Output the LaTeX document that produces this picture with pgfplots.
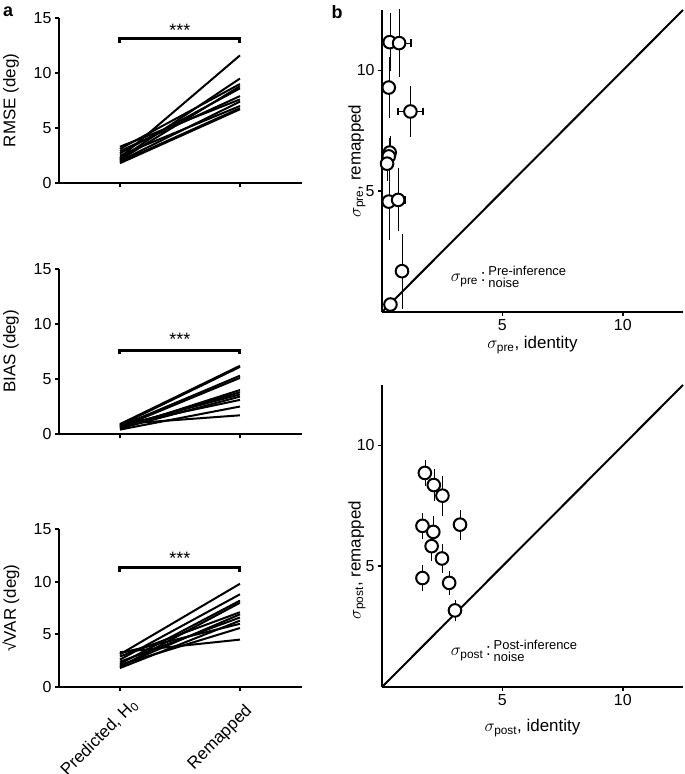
\documentclass[border=0pt]{standalone}
\usepackage{fontspec}
\setmainfont{Liberation Sans}
\usepackage{amsmath}
\usepackage{pgfplots}
\usepackage{pgfplotstable}
\pgfplotsset{compat=1.18}
\newcommand\tickfont{\fontsize{16}{19}\selectfont}
\newcommand\labfont{\fontsize{17}{20}\selectfont}
\newcommand\notefont{\fontsize{13}{14}\selectfont}
\newcommand\starfont{\fontsize{18}{18}\selectfont}

\pgfplotstableread{
x y ex ey
0.32 11.17 0.05 1.20
0.71 11.13 0.50 1.40
0.28 9.29 0.05 1.25
1.18 8.30 0.52 1.07
0.32 6.60 0.05 0.70
0.28 6.44 0.05 0.75
0.21 6.14 0.05 0.70
0.28 4.57 0.05 1.60
0.67 4.64 0.30 1.30
0.83 1.69 0.20 1.55
0.35 0.31 0.05 0.05
}\pre

\pgfplotstableread{
x y ex ey
1.78 8.86 0.05 0.52
2.15 8.36 0.05 0.65
2.51 7.92 0.05 0.83
1.68 6.67 0.05 0.55
3.24 6.72 0.05 0.62
2.13 6.42 0.05 0.65
2.06 5.83 0.05 0.60
2.49 5.32 0.05 0.60
1.68 4.51 0.05 0.55
2.79 4.31 0.05 0.50
3.03 3.17 0.05 0.45
}\post

\tikzset{l/.style={black, line width=2bp}}
\pgfplotsset{
 common/.style={
  scale only axis, anchor=south west,
  axis x line*=bottom, axis y line*=left,
  axis line style={line width=2.6bp, black},
  tick align=outside, major tick length=4bp,
  tick style={line width=1.8bp, black},
  /pgf/number format/assume math mode=true,
  ticklabel style={font=\tickfont},
  label style={font=\labfont},
  clip=false,
 },
 panelA/.style={common,
  width=243bp, xmin=-0.508, xmax=1.517, ymin=0, ymax=15,
  xtick={0,1}, xticklabels={}, ytick={0,5,10,15},
  ylabel style={at={(axis description cs:-0.198,0.5)}, anchor=center},
 },
 panelB/.style={common,
  width=301bp, height=302bp, xmin=0, xmax=12.5, ymin=0, ymax=12.5,
  xtick={5,10}, ytick={5,10},
 },
 ebar/.style={only marks, mark=none, black, line width=1.9bp},
 circ/.style={only marks, mark=*, mark size=6.3bp, mark options={fill=white, draw=black, line width=2bp}},
}

\begin{document}
\begin{tikzpicture}
\useasboundingbox (0,0) rectangle (685bp,-774bp);

% ---------- panel a: RMSE ----------
\begin{axis}[panelA, at={(59bp,-183bp)}, height=165bp, ylabel={RMSE (deg)}]
\addplot[l] coordinates {(0,3.3) (1,7.6)};
\addplot[l] coordinates {(0,3.1) (1,9.0)};
\addplot[l] coordinates {(0,2.9) (1,7.9)};
\addplot[l] coordinates {(0,2.7) (1,8.6)};
\addplot[l] coordinates {(0,2.5) (1,7.0)};
\addplot[l] coordinates {(0,2.3) (1,11.6)};
\addplot[l] coordinates {(0,2.2) (1,9.5)};
\addplot[l] coordinates {(0,2.1) (1,8.8)};
\addplot[l] coordinates {(0,2.0) (1,7.4)};
\addplot[l] coordinates {(0,1.9) (1,6.8)};
\addplot[l] coordinates {(0,1.8) (1,6.7)};
\addplot[black, line width=3bp] coordinates {(0,12.75) (0,13.1) (1,13.1) (1,12.75)};
\node[font=\starfont] at (axis cs:0.5,13.9) {***};
\end{axis}

% ---------- panel a: BIAS ----------
\begin{axis}[panelA, at={(59bp,-434bp)}, height=165bp, ylabel={BIAS (deg)}]
\addplot[l] coordinates {(0,0.9) (1,6.2)};
\addplot[l] coordinates {(0,0.8) (1,6.1)};
\addplot[l] coordinates {(0,0.7) (1,5.3)};
\addplot[l] coordinates {(0,0.6) (1,5.1)};
\addplot[l] coordinates {(0,0.5) (1,4.0)};
\addplot[l] coordinates {(0,0.6) (1,3.8)};
\addplot[l] coordinates {(0,0.7) (1,3.6)};
\addplot[l] coordinates {(0,0.5) (1,3.4)};
\addplot[l] coordinates {(0,0.8) (1,3.1)};
\addplot[l] coordinates {(0,0.4) (1,2.5)};
\addplot[l] coordinates {(0,0.9) (1,1.7)};
\addplot[black, line width=3bp] coordinates {(0,7.25) (0,7.6) (1,7.6) (1,7.25)};
\node[font=\starfont] at (axis cs:0.5,8.6) {***};
\end{axis}

% ---------- panel a: sqrt VAR ----------
\begin{axis}[panelA, at={(59bp,-687bp)}, height=158bp, ylabel={√VAR (deg)},
  xticklabels={{Predicted, H\textsubscript{0}\kern-8bp\relax},Remapped},
  xticklabel style={xshift=4bp, yshift=-7bp, rotate=45, anchor=north east, font=\labfont}]
\addplot[l] coordinates {(0,3.3) (1,4.5)};
\addplot[l] coordinates {(0,3.1) (1,9.8)};
\addplot[l] coordinates {(0,2.9) (1,7.1)};
\addplot[l] coordinates {(0,2.6) (1,8.8)};
\addplot[l] coordinates {(0,2.4) (1,6.6)};
\addplot[l] coordinates {(0,2.2) (1,8.2)};
\addplot[l] coordinates {(0,2.0) (1,6.9)};
\addplot[l] coordinates {(0,1.9) (1,8.0)};
\addplot[l] coordinates {(0,1.8) (1,6.3)};
\addplot[l] coordinates {(0,3.2) (1,6.0)};
\addplot[l] coordinates {(0,2.1) (1,5.6)};
\addplot[black, line width=3bp] coordinates {(0,10.95) (0,11.3) (1,11.3) (1,10.95)};
\node[font=\starfont] at (axis cs:0.5,12.2) {***};
\end{axis}

% ---------- panel b: pre ----------
\begin{axis}[panelB, at={(382bp,-312bp)},
  xlabel={$\sigma_{\text{pre}}$, identity},
  ylabel={$\sigma_{\text{pre}}$, remapped},
  xlabel style={at={(axis description cs:0.5,-0.109)}, anchor=center},
  ylabel style={at={(axis description cs:-0.083,0.5)}, anchor=center}]
\addplot[black, line width=2bp] coordinates {(0,0) (12.5,12.5)};
\addplot[ebar, error bars/.cd, y dir=both, y explicit, error mark=none] table[x=x, y=y, y error=ey] {\pre};
\addplot[ebar, error bars/.cd, x dir=both, x explicit, error mark options={black, line width=1.9bp, mark size=3.8bp, rotate=90}] table[x=x, y=y, x error=ex] {\pre};
\addplot[circ] table[x=x, y=y] {\pre};
\node[anchor=west, inner sep=0pt] at (axis cs:2.85,1.37) {\labfont$\sigma_{\text{pre}}$\,:\,\notefont\begin{tabular}{@{}l@{}}Pre-inference\\[-2pt]noise\end{tabular}};
\end{axis}

% ---------- panel b: post ----------
\begin{axis}[panelB, at={(382bp,-687bp)},
  xlabel={$\sigma_{\text{post}}$, identity},
  ylabel={$\sigma_{\text{post}}$, remapped},
  xlabel style={at={(axis description cs:0.5,-0.136)}, anchor=center},
  ylabel style={at={(axis description cs:-0.083,0.42)}, anchor=center}]
\addplot[black, line width=2bp] coordinates {(0,0) (12.5,12.5)};
\addplot[ebar, error bars/.cd, y dir=both, y explicit, error mark=none] table[x=x, y=y, y error=ey] {\post};
\addplot[circ] table[x=x, y=y] {\post};
\node[anchor=west, inner sep=0pt] at (axis cs:2.85,1.41) {\labfont$\sigma_{\text{post}}$\,:\,\notefont\begin{tabular}{@{}l@{}}Post-inference\\[-2pt]noise\end{tabular}};
\end{axis}

\node[font=\bfseries\fontsize{18}{18}\selectfont] at (8bp,-12bp) {a};
\node[font=\bfseries\fontsize{18}{18}\selectfont] at (337bp,-12bp) {b};
\end{tikzpicture}
\end{document}
